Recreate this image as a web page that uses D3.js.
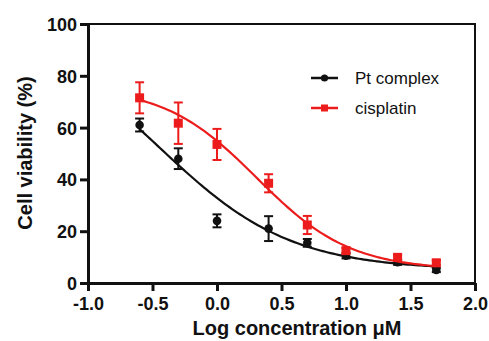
<!DOCTYPE html>
<html>
<head>
<meta charset="utf-8">
<script src="https://cdn.jsdelivr.net/npm/d3@7"></script>
<style>
  body { margin: 0; background: #fff; }
  svg text { font-family: "Liberation Sans", Arial, sans-serif; fill: #111; }
</style>
</head>
<body>
<svg id="chart" width="489" height="341"></svg>
<script>
// Log concentration (x) and mean viability / SEM
const logConc = [-0.6, -0.3, 0.0, 0.4, 0.7, 1.0, 1.4, 1.7];
const ptMean = [61, 48, 24, 21, 15.5, 10.5, 8, 5];
const ptErr = [2.5, 4, 2.5, 4.8, 1.5, 1, 1, 0.8];
const cisMean = [71.5, 61.7, 53.5, 38.5, 22.4, 12.5, 9.9, 7.8];
const cisErr = [6, 8, 6, 3.5, 3.5, 1, 1, 1];

// Four-parameter logistic fits: [bottom, top, logIC50, hill slope]
const ptFit = [5, 100, -0.45, 0.85];
const cisFit = [5, 76, 0.31, 1.2];

const seriesNames = ['Pt complex', 'cisplatin'];
const xTicks = [-1.0, -0.5, 0.0, 0.5, 1.0, 1.5, 2.0];
const yTicks = [0, 20, 40, 60, 80, 100];

const margin = { top: 24, right: 14, bottom: 58, left: 88 };
const width = 489, height = 341;
const red = '#ec1c1c';

const svg = d3.select('#chart');
const x = d3.scaleLinear().domain([-1, 2]).range([margin.left, width - margin.right]);
const y = d3.scaleLinear().domain([0, 100]).range([height - margin.bottom, margin.top]);

// Frame (top and right, thinner)
svg.append('path')
    .attr('d', 'M' + x(-1) + ',' + y(100) + 'H' + x(2) + 'V' + y(0))
    .attr('fill', 'none').attr('stroke', '#111').attr('stroke-width', 2);

// Axes
const fmt = d3.format('.1f');
const xAxis = svg.append('g')
    .attr('transform', 'translate(0,' + y(0) + ')')
    .call(d3.axisBottom(x).tickValues(xTicks).tickFormat(d => fmt(d).replace('\u2212', '-')).tickSize(8).tickSizeOuter(0));
const yAxis = svg.append('g')
    .attr('transform', 'translate(' + x(-1) + ',0)')
    .call(d3.axisLeft(y).tickValues(yTicks).tickSize(8).tickSizeOuter(0));

[xAxis, yAxis].forEach(g => {
    g.select('.domain').attr('stroke', '#111').attr('stroke-width', 3);
    g.selectAll('.tick line').attr('stroke', '#111').attr('stroke-width', 3);
    g.selectAll('.tick text')
        .style('font-size', '18px').style('font-weight', 'bold')
        .style('font-family', '"Liberation Sans", Arial, sans-serif')
        .attr('fill', '#111');
});
xAxis.selectAll('.tick text').attr('dy', null).attr('y', 27);
yAxis.selectAll('.tick text').attr('x', -11).attr('dy', '0.36em');

// Axis titles
svg.append('text')
    .attr('x', 297).attr('y', 335)
    .attr('text-anchor', 'middle')
    .style('font-size', '20px').style('font-weight', 'bold')
    .text('Log concentration \u03BCM');

svg.append('text')
    .attr('transform', 'translate(32,153) rotate(-90)')
    .attr('text-anchor', 'middle')
    .style('font-size', '20px').style('font-weight', 'bold')
    .text('Cell viability (%)');

// Fitted curves
function logistic(p) {
    return v => p[0] + (p[1] - p[0]) / (1 + Math.pow(10, (v - p[2]) * p[3]));
}
const curveX = d3.range(logConc[0], logConc[logConc.length - 1] + 0.001, 0.02);
const line = d3.line().x(d => x(d[0])).y(d => y(d[1]));

function drawSeries(mean, err, fit, color, shape) {
    const f = logistic(fit);
    const g = svg.append('g');
    g.append('path')
        .attr('d', line(curveX.map(v => [v, f(v)])))
        .attr('fill', 'none').attr('stroke', color).attr('stroke-width', 2.2);

    const pts = logConc.map((v, i) => ({ x: v, m: mean[i], e: err[i] }));
    const bars = g.selectAll('.err').data(pts).enter().append('g').attr('class', 'err')
        .attr('stroke', color).attr('stroke-width', 2);
    bars.append('line')
        .attr('x1', d => x(d.x)).attr('x2', d => x(d.x))
        .attr('y1', d => y(d.m - d.e)).attr('y2', d => y(d.m + d.e));
    bars.append('line')
        .attr('x1', d => x(d.x) - 4.5).attr('x2', d => x(d.x) + 4.5)
        .attr('y1', d => y(d.m + d.e)).attr('y2', d => y(d.m + d.e));
    bars.append('line')
        .attr('x1', d => x(d.x) - 4.5).attr('x2', d => x(d.x) + 4.5)
        .attr('y1', d => y(d.m - d.e)).attr('y2', d => y(d.m - d.e));

    if (shape === 'circle') {
        g.selectAll('.pt').data(pts).enter().append('circle')
            .attr('cx', d => x(d.x)).attr('cy', d => y(d.m)).attr('r', 4.3)
            .attr('fill', color);
    } else {
        g.selectAll('.pt').data(pts).enter().append('rect')
            .attr('x', d => x(d.x) - 4.5).attr('y', d => y(d.m) - 4.5)
            .attr('width', 9).attr('height', 9)
            .attr('fill', color);
    }
}

drawSeries(ptMean, ptErr, ptFit, '#111', 'circle');
drawSeries(cisMean, cisErr, cisFit, red, 'square');

// Legend
const legend = svg.append('g');
seriesNames.forEach((name, i) => {
    const ly = 78 + i * 30, color = i === 0 ? '#111' : red;
    legend.append('line')
        .attr('x1', 311).attr('x2', 338).attr('y1', ly).attr('y2', ly)
        .attr('stroke', color).attr('stroke-width', 2.5);
    if (i === 0) {
        legend.append('circle').attr('cx', 324.5).attr('cy', ly).attr('r', 3.6).attr('fill', color);
    } else {
        legend.append('rect').attr('x', 321).attr('y', ly - 3.5).attr('width', 7).attr('height', 7).attr('fill', color);
    }
    legend.append('text')
        .attr('x', 355).attr('y', ly + 6)
        .style('font-size', '17px')
        .text(name);
});
</script>
</body>
</html>
